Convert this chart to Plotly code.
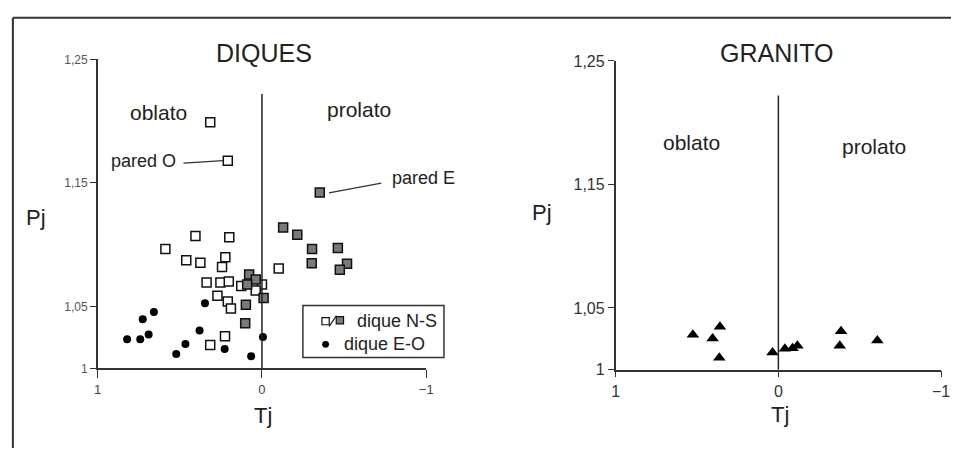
import plotly.graph_objects as go

# ---------------- data ----------------
# DIQUES: dique N-S, white squares (Tj, Pj)
ns_white_tj = [0.315, 0.208, 0.405, 0.199, 0.588, 0.461, 0.375, 0.223, 0.243, -0.102,
               0.337, 0.253, 0.202, 0.126, 0.000, 0.038, 0.271, 0.208, 0.189, 0.225, 0.315]
ns_white_pj = [1.199, 1.168, 1.107, 1.106, 1.0966, 1.0875, 1.0854, 1.0898, 1.082, 1.0807,
               1.0695, 1.0695, 1.0703, 1.0667, 1.0678, 1.063, 1.0587, 1.0542, 1.0485, 1.026, 1.019]
# DIQUES: dique N-S, grey squares
ns_grey_tj = [-0.352, -0.129, -0.215, -0.305, -0.462, -0.303, -0.518, -0.474,
              0.078, 0.038, 0.090, -0.010, 0.098, 0.102]
ns_grey_pj = [1.1422, 1.114, 1.108, 1.0966, 1.0973, 1.0851, 1.0846, 1.0797,
              1.076, 1.0719, 1.0678, 1.057, 1.0514, 1.0366]
# DIQUES: dique E-O, black circles
eo_tj = [0.347, 0.658, 0.726, 0.821, 0.741, 0.690, 0.380, 0.466, 0.522, 0.227, 0.066, -0.006]
eo_pj = [1.0527, 1.0456, 1.0397, 1.0236, 1.0236, 1.0275, 1.0306, 1.0197, 1.0117, 1.0156, 1.0098, 1.0254]
# GRANITO: black triangles
gr_tj = [0.525, 0.404, 0.359, 0.363, 0.036, -0.040, -0.087, -0.117, -0.385, -0.377, -0.608]
gr_pj = [1.0283, 1.0252, 1.0348, 1.0097, 1.014, 1.0169, 1.0174, 1.0195, 1.0312, 1.0195, 1.0237]

# axes
tj_range = [1, -1]
pj_range = [1, 1.25]
x_tickvals = [1, 0, -1]
x_ticktext = ["1", "0", "\u22121"]
y_tickvals = [1, 1.05, 1.15, 1.25]
y_ticktext = ["1", "1,05", "1,15", "1,25"]
divider_tj = 0
divider_top = 1.222

# leader lines (Tj, Pj)
pared_o_line = ([0.478, 0.237], [1.166, 1.168])
pared_e_line = ([-0.408, -0.727], [1.142, 1.1498])

FONT = "Liberation Sans, Arial, sans-serif"
W, H = 960, 457


def X(px):
    return px / W


def Y(py):
    return 1 - py / H


fig = go.Figure()

sq_line = dict(color="#111", width=1.5)
fig.add_trace(go.Scatter(x=ns_white_tj, y=ns_white_pj, mode="markers", xaxis="x", yaxis="y",
                         marker=dict(symbol="square", size=9, color="white", line=sq_line),
                         showlegend=False, cliponaxis=False, hoverinfo="skip"))
fig.add_trace(go.Scatter(x=ns_grey_tj, y=ns_grey_pj, mode="markers", xaxis="x", yaxis="y",
                         marker=dict(symbol="square", size=9, color="#7a7a7a", line=sq_line),
                         showlegend=False, cliponaxis=False, hoverinfo="skip"))
fig.add_trace(go.Scatter(x=eo_tj, y=eo_pj, mode="markers", xaxis="x", yaxis="y",
                         marker=dict(symbol="circle", size=8, color="black"),
                         showlegend=False, cliponaxis=False, hoverinfo="skip"))
fig.add_trace(go.Scatter(x=gr_tj, y=gr_pj, mode="markers", xaxis="x2", yaxis="y2",
                         marker=dict(symbol="triangle-up", size=11, color="black"),
                         showlegend=False, cliponaxis=False, hoverinfo="skip"))

axis_common = dict(showgrid=False, zeroline=False, showline=True, linecolor="#333",
                   linewidth=1.5, ticks="outside", tickcolor="#333", tickwidth=1.3,
                   fixedrange=True)

fig.update_layout(
    width=W, height=H,
    margin=dict(l=0, r=0, t=0, b=0),
    paper_bgcolor="white", plot_bgcolor="white",
    font=dict(family=FONT, color="#222"),
    xaxis=dict(domain=[X(95), X(428)], range=tj_range, tickvals=x_tickvals, ticktext=x_ticktext,
               ticklen=8, tickfont=dict(size=13, color="#444"), anchor="y", **axis_common),
    yaxis=dict(domain=[Y(374.3), Y(53.3)], range=pj_range, tickvals=y_tickvals, ticktext=y_ticktext,
               ticklen=6, tickfont=dict(size=12, color="#555"), anchor="x", **axis_common),
    xaxis2=dict(domain=[X(620), X(950)], range=tj_range, tickvals=x_tickvals, ticktext=x_ticktext,
                ticklen=6, tickfont=dict(size=16, color="#333"), anchor="y2", **axis_common),
    yaxis2=dict(domain=[Y(375.7), Y(55)], range=pj_range, tickvals=y_tickvals, ticktext=y_ticktext,
                ticklen=6, tickfont=dict(size=16, color="#333"), anchor="x2", **axis_common),
)

shapes = []
# dividers at Tj = 0
for xr, yr in (("x", "y"), ("x2", "y2")):
    shapes.append(dict(type="line", xref=xr, yref=yr, x0=divider_tj, x1=divider_tj,
                       y0=pj_range[0], y1=divider_top, line=dict(color="#222", width=1.5)))
# leader lines
shapes.append(dict(type="line", xref="x", yref="y", x0=pared_o_line[0][0], x1=pared_o_line[0][1],
                   y0=pared_o_line[1][0], y1=pared_o_line[1][1], line=dict(color="#333", width=1.2)))
shapes.append(dict(type="line", xref="x", yref="y", x0=pared_e_line[0][0], x1=pared_e_line[0][1],
                   y0=pared_e_line[1][0], y1=pared_e_line[1][1], line=dict(color="#333", width=1.2)))
# outer frame (top and left)
shapes.append(dict(type="line", xref="paper", yref="paper", x0=X(9), x1=1.0, y0=Y(10), y1=Y(10),
                   line=dict(color="#333", width=2)))
shapes.append(dict(type="line", xref="paper", yref="paper", x0=X(9), x1=X(9), y0=Y(10), y1=0,
                   line=dict(color="#333", width=2)))
# legend box
shapes.append(dict(type="rect", xref="paper", yref="paper", x0=X(303), x1=X(446), y0=Y(363), y1=Y(309),
                   line=dict(color="#333", width=1.5), fillcolor="white"))
# legend keys
shapes.append(dict(type="rect", xref="paper", yref="paper", x0=X(322.3), x1=X(329.7), y0=Y(329), y1=Y(321.6),
                   line=dict(color="#111", width=1.2), fillcolor="white"))
shapes.append(dict(type="line", xref="paper", yref="paper", x0=X(329.5), x1=X(337), y0=Y(331), y1=Y(319.5),
                   line=dict(color="#222", width=1.2)))
shapes.append(dict(type="rect", xref="paper", yref="paper", x0=X(336.8), x1=X(344.2), y0=Y(328), y1=Y(320.6),
                   line=dict(color="#111", width=1.2), fillcolor="#7a7a7a"))
shapes.append(dict(type="circle", xref="paper", yref="paper", x0=X(322.5), x1=X(329.5), y0=Y(352.8), y1=Y(345.8),
                   line=dict(color="black", width=0), fillcolor="black"))
fig.update_layout(shapes=shapes)

ann = []


def txt(text, x, y, size, xref="paper", yref="paper", xanchor="center", color="#222"):
    ann.append(dict(text=text, x=x, y=y, xref=xref, yref=yref, showarrow=False,
                    xanchor=xanchor, yanchor="middle", font=dict(size=size, family=FONT, color=color)))


# titles
txt("DIQUES", X(264), Y(47), 25)
txt("GRANITO", X(783), Y(47), 25)
# axis titles
txt("Pj", X(32), Y(218), 22)
txt("Tj", X(263), Y(423), 22)
txt("Pj", X(545), Y(212), 22)
txt("Tj", X(787), Y(422), 22)
# region labels
txt("oblato", 0.628, 1.2066, 21, "x", "y")
txt("prolato", -0.589, 1.2097, 21, "x", "y")
txt("oblato", 0.533, 1.1843, 21, "x2", "y2")
txt("prolato", -0.585, 1.1805, 21, "x2", "y2")
# point labels
txt("pared O", 0.719, 1.1678, 18, "x", "y")
txt("pared E", -0.986, 1.1537, 18, "x", "y")
# legend text
txt("dique N-S", X(356), Y(325), 18, xanchor="left")
txt("dique E-O", X(343), Y(349), 18, xanchor="left")
fig.update_layout(annotations=ann)

fig.write_html(
    "out.html",
    config={"displayModeBar": False},
    post_script="document.body.style.margin='0';document.body.style.padding='0';"
                "document.body.style.overflow='hidden';document.documentElement.style.overflow='hidden';",
)
